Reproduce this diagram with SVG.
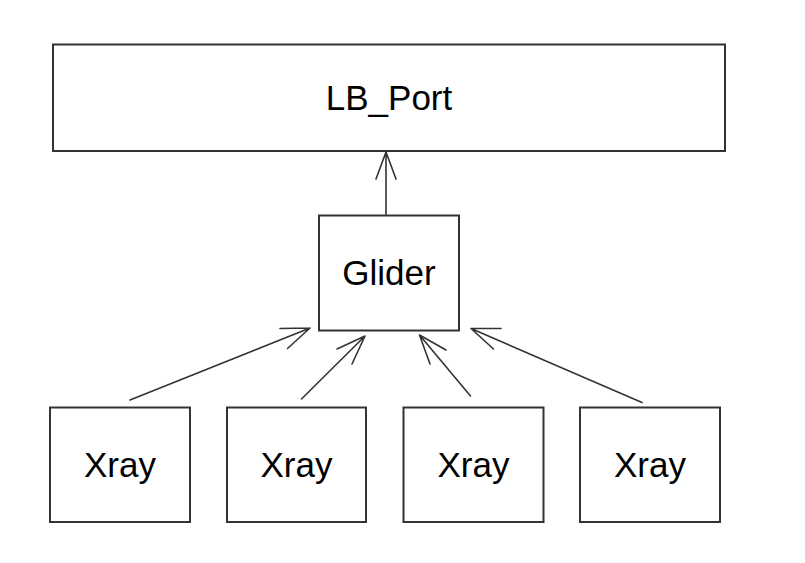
<svg xmlns="http://www.w3.org/2000/svg" width="805" height="563" viewBox="0 0 805 563">
<style>
.box{fill:#fff;stroke:#333;stroke-width:2}
.lbl{font-family:"Liberation Sans",Arial,sans-serif;font-size:35px;fill:#000;text-anchor:middle}
.edge{fill:none;stroke:#333;stroke-width:1.6;stroke-linecap:round;stroke-linejoin:round}
</style>
<rect width="805" height="563" fill="#fff"/>
<g id="lb_port"><rect class="box" x="53" y="44.5" width="672" height="106.5"/><text class="lbl" x="389" y="109.5">LB_Port</text></g>
<g id="glider"><rect class="box" x="319" y="215.5" width="140" height="115"/><text class="lbl" x="389" y="284.5">Glider</text></g>
<g id="xray1"><rect class="box" x="50" y="407.5" width="140" height="114.5"/><text class="lbl" x="120" y="476.5">Xray</text></g>
<g id="xray2"><rect class="box" x="227" y="407.5" width="139" height="114.5"/><text class="lbl" x="296.5" y="476.5">Xray</text></g>
<g id="xray3"><rect class="box" x="403.5" y="407.5" width="140" height="114.5"/><text class="lbl" x="473.5" y="476.5">Xray</text></g>
<g id="xray4"><rect class="box" x="580" y="407.5" width="140" height="114.5"/><text class="lbl" x="650" y="476.5">Xray</text></g>
<g id="connectors">
<path class="edge" d="M386 215 L386 152 M376 179 L386 152 L396 179"/>
<path class="edge" d="M130 400 L310 328 M280 328.5 L310 328 L287.5 348.5"/>
<path class="edge" d="M301.5 399 L365 336 M337 349 L365 336 L352 364"/>
<path class="edge" d="M470.5 396 L419.5 335 M446 350 L419.5 335 L430 364"/>
<path class="edge" d="M642 402.5 L471 328.5 M501 328.5 L471 328.5 L493.5 349"/>
</g>
</svg>
